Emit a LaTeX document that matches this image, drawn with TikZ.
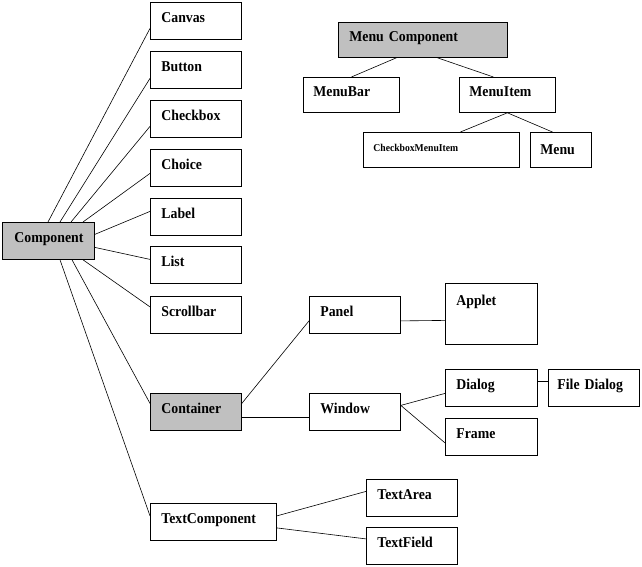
\documentclass[tikz,border=0pt]{standalone}
\usepackage{fontspec}
\setmainfont{Liberation Serif}[FakeStretch=0.92]
\usepackage{tikz}
\usetikzlibrary{positioning}
\definecolor{boxgray}{RGB}{192,192,192}

\begin{document}
\begin{tikzpicture}[
  x=1pt, y=-1pt,
  cls/.style={draw,line width=0.8pt,anchor=north west,align=left,
    text width=#1,inner xsep=11pt,inner ysep=0pt,minimum height=37pt,
    text height=11pt,text depth=8pt,
    font=\fontsize{15}{17}\selectfont\bfseries},
  cls/.default=69pt,
  base/.style={fill=boxgray},
  every edge/.style={draw,line width=0.6pt}
]
\useasboundingbox (0,0) rectangle (642,567);

% awt component tree
\node[cls=68pt,base,inner xsep=12pt] (comp) at (2,222) {Component};
\node[cls] (canvas) at (150,2) {Canvas};
\node[cls] (button) at (150,51) {Button};
\node[cls] (checkbox) at (150,100) {Checkbox};
\node[cls] (choice) at (150,149) {Choice};
\node[cls] (label) at (150,198) {Label};
\node[cls] (list) at (150,246) {List};
\node[cls] (scroll) at (150,296) {Scrollbar};
\node[cls,base] (cont) at (150,393) {Container};
\node[cls=104pt] (textcomp) at (150,503) {TextComponent};

\node[cls] (panel) at (309,296) {Panel};
\node[cls] (window) at (309,393) {Window};
\node[cls=70pt,minimum height=61pt,text depth=28pt] (applet) at (445,283) {Applet};
\node[cls=70pt] (dialog) at (445,369) {Dialog};
\node[cls=70pt] (frame) at (445,418) {Frame};
\node[cls=73pt,inner xsep=9pt] (filedlg) at (548,369) {File Dialog};
\node[cls] (textarea) at (366,479) {TextArea};
\node[cls] (textfield) at (366,527) {TextField};

% menu tree
\node[cls=147pt,base,minimum height=35pt] (menucomp) at (338,22) {Menu Component};
\node[cls=76pt,minimum height=35pt,inner xsep=10pt] (menubar) at (303,77) {MenuBar};
\node[cls=76pt,minimum height=35pt,inner xsep=10pt] (menuitem) at (459,77) {MenuItem};
\node[cls=136pt,minimum height=35pt,inner xsep=10pt,
  font=\fontsize{10.5}{12}\selectfont\bfseries] (cbmenuitem) at (363,132) {CheckboxMenuItem};
\node[cls=41pt,minimum height=35pt,inner xsep=10pt,text depth=1pt] (menu) at (530,132) {Menu};

\path ([xshift=46pt]comp.north west) edge ([yshift=-7.5pt]canvas.west)
([xshift=58pt]comp.north west) edge ([yshift=-8.5pt]button.west)
([xshift=69pt]comp.north west) edge ([yshift=-7.5pt]checkbox.west)
([xshift=81pt]comp.north west) edge ([yshift=-5.5pt]choice.west)
([yshift=6.5pt]comp.east) edge ([yshift=5.5pt]label.west)
([yshift=-6.5pt]comp.east) edge ([yshift=5.5pt]list.west)
([xshift=81pt]comp.south west) edge ([yshift=8pt]scroll.west)
([xshift=70pt]comp.south west) edge ([yshift=8.5pt]cont.west)
([xshift=58pt]comp.south west) edge ([yshift=6pt]textcomp.west)
([yshift=8.5pt]cont.east) edge ([yshift=-6pt]panel.west)
([yshift=-5.5pt]cont.east) edge ([yshift=-5.5pt]window.west)
([yshift=-6pt]panel.east) edge ([yshift=-6.5pt]applet.west)
([yshift=6.5pt]window.east) edge ([yshift=-5.5pt]dialog.west)
([yshift=6.5pt]window.east) edge ([yshift=-6pt]frame.west)
([yshift=6.5pt]dialog.east) edge ([yshift=6.5pt]filedlg.west)
([yshift=6pt]textcomp.east) edge ([yshift=6.5pt]textarea.west)
([yshift=-6pt]textcomp.east) edge ([yshift=7pt]textfield.west)
([xshift=-26.5pt]menucomp.south) edge (menubar.north)
([xshift=14.5pt]menucomp.south) edge ([xshift=-14pt]menuitem.north)
(menuitem.south) edge ([xshift=19pt]cbmenuitem.north)
(menuitem.south) edge ([xshift=-8.5pt]menu.north)
;

\end{tikzpicture}
\end{document}
